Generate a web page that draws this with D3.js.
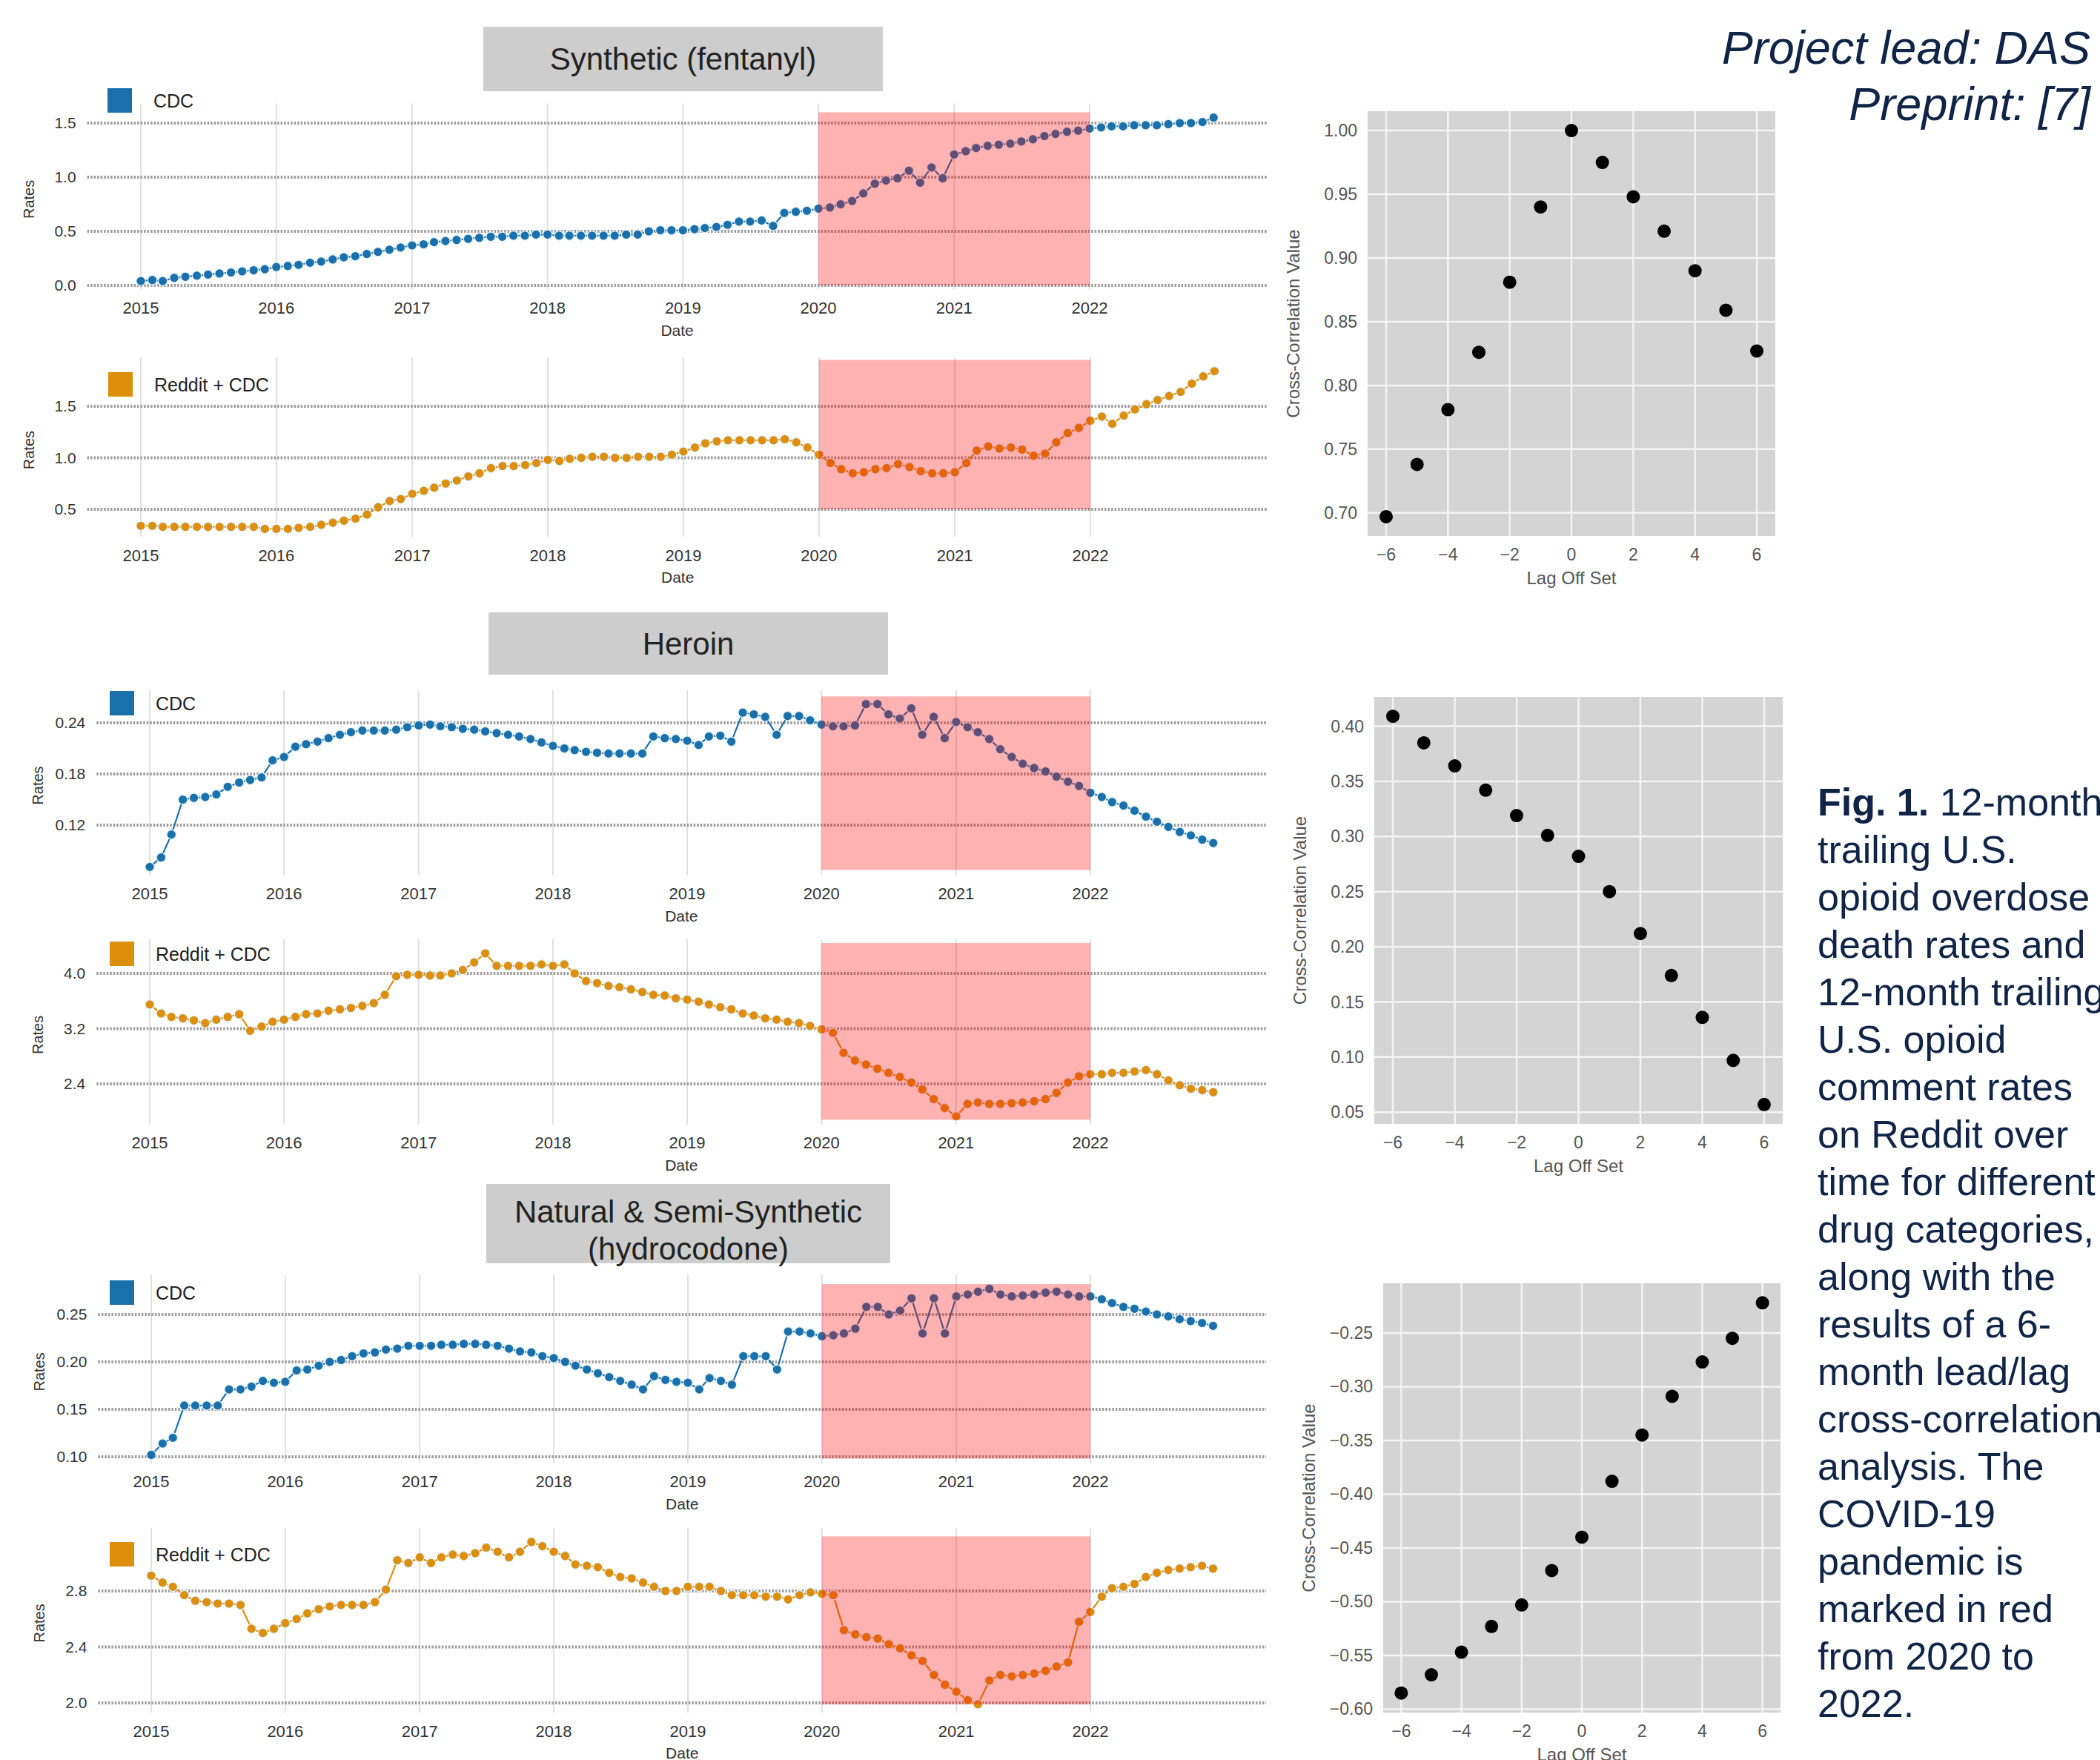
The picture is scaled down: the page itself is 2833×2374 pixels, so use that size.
<!DOCTYPE html>
<html>
<head>
<meta charset="utf-8">
<script src="https://cdn.jsdelivr.net/npm/d3@7"></script>
<style>
  body { margin: 0; background: #fff; }
  svg { display: block; font-family: "Liberation Sans", Arial, sans-serif; }
</style>
</head>
<body>
<svg id="fig" width="2833" height="2374"></svg>
<script>
// monthly rates, Jan 2015 .. Dec 2022
const fentanylCDC = [
  0.04,0.05,0.04,0.07,0.08,0.09,0.10,0.11,0.12,0.13,0.14,0.15,
  0.17,0.18,0.19,0.21,0.22,0.24,0.26,0.27,0.29,0.31,0.33,0.35,
  0.37,0.38,0.40,0.41,0.42,0.43,0.44,0.45,0.45,0.46,0.46,0.47,
  0.47,0.46,0.46,0.46,0.46,0.46,0.46,0.47,0.47,0.50,0.51,0.51,
  0.51,0.52,0.53,0.54,0.56,0.59,0.59,0.60,0.55,0.67,0.68,0.69,
  0.71,0.72,0.75,0.78,0.85,0.94,0.97,0.99,1.06,0.95,1.09,0.99,
  1.21,1.24,1.27,1.29,1.30,1.31,1.33,1.35,1.38,1.40,1.42,1.43,
  1.45,1.46,1.47,1.47,1.48,1.48,1.48,1.49,1.50,1.50,1.51,1.55
];
const fentanylReddit = [
  0.34,0.34,0.33,0.33,0.33,0.33,0.33,0.33,0.33,0.33,0.33,0.31,
  0.31,0.31,0.32,0.33,0.35,0.37,0.39,0.41,0.45,0.52,0.58,0.60,
  0.65,0.68,0.71,0.75,0.78,0.82,0.85,0.90,0.92,0.92,0.93,0.95,
  0.98,0.97,0.99,1.00,1.01,1.01,1.00,1.00,1.01,1.01,1.01,1.03,
  1.06,1.10,1.14,1.16,1.17,1.17,1.17,1.17,1.17,1.18,1.15,1.10,
  1.03,0.95,0.89,0.85,0.86,0.89,0.90,0.94,0.91,0.87,0.85,0.85,
  0.86,0.95,1.07,1.11,1.09,1.10,1.08,1.02,1.04,1.15,1.24,1.29,
  1.36,1.40,1.33,1.41,1.47,1.52,1.56,1.60,1.64,1.72,1.79,1.84
];
const heroinCDC = [
  0.071,0.082,0.109,0.150,0.152,0.153,0.156,0.165,0.170,0.173,0.176,0.196,
  0.200,0.212,0.215,0.218,0.222,0.226,0.229,0.231,0.231,0.231,0.232,0.235,
  0.237,0.238,0.236,0.235,0.233,0.232,0.230,0.228,0.226,0.224,0.221,0.217,
  0.213,0.210,0.208,0.206,0.205,0.204,0.204,0.204,0.204,0.224,0.222,0.221,
  0.219,0.214,0.224,0.225,0.218,0.252,0.250,0.247,0.226,0.248,0.248,0.243,
  0.238,0.236,0.236,0.237,0.262,0.262,0.250,0.245,0.257,0.226,0.247,0.222,
  0.241,0.235,0.229,0.221,0.209,0.200,0.192,0.187,0.183,0.177,0.171,0.166,
  0.158,0.153,0.147,0.143,0.137,0.130,0.124,0.118,0.112,0.108,0.103,0.099
];
const heroinReddit = [
  3.55,3.42,3.37,3.35,3.32,3.28,3.33,3.37,3.41,3.17,3.23,3.30,
  3.33,3.37,3.41,3.42,3.46,3.48,3.50,3.53,3.57,3.69,3.96,3.98,
  3.98,3.97,3.97,4.00,4.05,4.16,4.29,4.11,4.11,4.11,4.11,4.13,
  4.11,4.13,4.00,3.89,3.86,3.82,3.80,3.77,3.73,3.69,3.68,3.64,
  3.62,3.59,3.55,3.51,3.48,3.42,3.39,3.35,3.33,3.30,3.28,3.24,
  3.19,3.14,2.85,2.74,2.68,2.62,2.56,2.50,2.42,2.32,2.18,2.05,
  1.93,2.11,2.13,2.11,2.11,2.12,2.13,2.15,2.18,2.27,2.42,2.51,
  2.54,2.54,2.56,2.56,2.58,2.60,2.54,2.45,2.38,2.33,2.31,2.28
];
const hydroCDC = [
  0.102,0.114,0.120,0.154,0.154,0.154,0.154,0.171,0.171,0.174,0.180,0.178,
  0.179,0.191,0.192,0.196,0.200,0.202,0.206,0.209,0.210,0.213,0.214,0.217,
  0.217,0.217,0.218,0.218,0.219,0.219,0.218,0.217,0.214,0.211,0.210,0.206,
  0.204,0.200,0.196,0.192,0.188,0.184,0.180,0.176,0.171,0.185,0.181,0.179,
  0.178,0.171,0.183,0.180,0.176,0.206,0.206,0.206,0.192,0.232,0.232,0.230,
  0.227,0.228,0.230,0.235,0.258,0.258,0.250,0.254,0.267,0.230,0.267,0.230,
  0.269,0.271,0.274,0.277,0.271,0.269,0.270,0.271,0.273,0.274,0.271,0.269,
  0.269,0.266,0.262,0.258,0.256,0.253,0.250,0.248,0.245,0.243,0.241,0.238
];
const hydroReddit = [
  2.91,2.86,2.83,2.77,2.73,2.72,2.71,2.71,2.70,2.53,2.50,2.53,
  2.57,2.60,2.64,2.67,2.69,2.70,2.70,2.70,2.72,2.81,3.02,3.00,
  3.04,3.00,3.04,3.06,3.05,3.07,3.11,3.08,3.04,3.08,3.15,3.12,
  3.08,3.05,2.99,2.98,2.97,2.93,2.90,2.89,2.86,2.83,2.80,2.80,
  2.83,2.83,2.83,2.80,2.77,2.77,2.77,2.76,2.76,2.74,2.77,2.79,
  2.78,2.77,2.52,2.49,2.47,2.46,2.42,2.39,2.34,2.30,2.20,2.13,
  2.08,2.02,1.99,2.16,2.20,2.19,2.20,2.21,2.23,2.26,2.29,2.58,
  2.65,2.76,2.82,2.83,2.85,2.90,2.93,2.95,2.96,2.97,2.98,2.96
];

// lead/lag cross-correlation
const lagOffsets = [-6,-5,-4,-3,-2,-1,0,1,2,3,4,5,6];
const xcorrFentanyl = [0.697,0.738,0.781,0.826,0.881,0.940,1.000,0.975,0.948,0.921,0.890,0.859,0.827];
const xcorrHeroin = [0.409,0.385,0.364,0.342,0.319,0.301,0.282,0.250,0.212,0.174,0.136,0.097,0.057];
const xcorrHydro = [-0.585,-0.568,-0.547,-0.523,-0.503,-0.471,-0.440,-0.388,-0.345,-0.309,-0.277,-0.255,-0.222];

const lagTicks = [-6,-4,-2,0,2,4,6];
const yearLabels = ['2015','2016','2017','2018','2019','2020','2021','2022'];
const covidSpan = ['2020','2022'];
const titles = [['Synthetic (fentanyl)'], ['Heroin'], ['Natural & Semi-Synthetic', '(hydrocodone)']];
const captionLines = [
  '12-month', 'trailing U.S.', 'opioid overdose', 'death rates and', '12-month trailing',
  'U.S. opioid', 'comment rates', 'on Reddit over', 'time for different',
  'drug categories,', 'along with the', 'results of a 6-', 'month lead/lag',
  'cross-correlation', 'analysis. The', 'COVID-19', 'pandemic is',
  'marked in red', 'from 2020 to', '2022.'
];

const blue = '#1a70aa', orange = '#dc8e0c';
const dates = d3.timeMonth.range(new Date(2015, 0, 1), new Date(2023, 0, 1));
const parseYear = d3.timeParse('%Y');

const svg = d3.select('#fig');
svg.append('rect').attr('width', 2833).attr('height', 2374).attr('fill', '#fff');

const linePanels = [
  {values: fentanylCDC, color: blue, name: 'CDC', x15: 190, x22: 1470, ya: [0, 385], yb: [1.5, 166],
   ticks: [0, 0.5, 1.0, 1.5], fmt: '.1f', band: [0, 1.6], legend: [145, 119]},
  {values: fentanylReddit, color: orange, name: 'Reddit + CDC', x15: 190, x22: 1471, ya: [0.5, 687], yb: [1.5, 548],
   ticks: [0.5, 1.0, 1.5], fmt: '.1f', band: [0.5, 1.95], legend: [146, 502]},
  {values: heroinCDC, color: blue, name: 'CDC', x15: 202, x22: 1471, ya: [0.12, 1113], yb: [0.24, 975],
   ticks: [0.12, 0.18, 0.24], fmt: '.2f', band: [0.0675, 0.271], legend: [148, 932]},
  {values: heroinReddit, color: orange, name: 'Reddit + CDC', x15: 202, x22: 1471, ya: [2.4, 1462], yb: [4.0, 1313],
   ticks: [2.4, 3.2, 4.0], fmt: '.1f', band: [1.88, 4.44], legend: [148, 1270]},
  {values: hydroCDC, color: blue, name: 'CDC', x15: 204, x22: 1471, ya: [0.10, 1965], yb: [0.25, 1773],
   ticks: [0.10, 0.15, 0.20, 0.25], fmt: '.2f', band: [0.098, 0.282], legend: [148, 1727]},
  {values: hydroReddit, color: orange, name: 'Reddit + CDC', x15: 204, x22: 1471, ya: [2.0, 2297], yb: [2.8, 2146],
   ticks: [2.0, 2.4, 2.8], fmt: '.1f', band: [1.99, 3.19], legend: [148, 2080]}
];

function drawLinePanel(p) {
  const g = svg.append('g');
  const x = d3.scaleTime().domain([parseYear('2015'), parseYear('2022')]).range([p.x15, p.x22]);
  const y = d3.scaleLinear().domain([p.ya[0], p.yb[0]]).range([p.ya[1], p.yb[1]]);

  const span = x(dates[dates.length - 1]) - x(dates[0]);
  const left = x(dates[0]) - 0.05 * span, right = x(dates[dates.length - 1]) + 0.05 * span;
  const [lo, hi] = d3.extent(p.values);
  const pad = 0.05 * (hi - lo);
  const top = y(hi + pad), bottom = y(lo - pad);

  g.selectAll('line.vgrid').data(yearLabels).join('line')
    .attr('x1', d => x(parseYear(d))).attr('x2', d => x(parseYear(d)))
    .attr('y1', top - 8).attr('y2', bottom)
    .attr('stroke', '#e0e0e0').attr('stroke-width', 2);

  g.selectAll('line.hgrid').data(p.ticks).join('line')
    .attr('x1', left).attr('x2', right)
    .attr('y1', d => y(d)).attr('y2', d => y(d))
    .attr('stroke', '#9c9c9c').attr('stroke-width', 4)
    .attr('stroke-dasharray', '2.5 2');

  const pts = dates.map((d, i) => ({date: d, v: p.values[i]}));
  g.append('path').datum(pts)
    .attr('fill', 'none').attr('stroke', p.color).attr('stroke-width', 2.2)
    .attr('d', d3.line().x(d => x(d.date)).y(d => y(d.v)));
  g.selectAll('circle').data(pts).join('circle')
    .attr('cx', d => x(d.date)).attr('cy', d => y(d.v)).attr('r', 6.2)
    .attr('fill', p.color).attr('stroke', '#dff3ff').attr('stroke-width', 1.2);

  // covid period
  g.append('rect')
    .attr('x', x(parseYear(covidSpan[0])))
    .attr('width', x(parseYear(covidSpan[1])) - x(parseYear(covidSpan[0])))
    .attr('y', y(p.band[1])).attr('height', y(p.band[0]) - y(p.band[1]))
    .attr('fill', 'red').attr('opacity', 0.3);

  const fmt = d3.format(p.fmt);
  g.selectAll('text.ytick').data(p.ticks).join('text')
    .attr('x', left - 15).attr('y', d => y(d)).attr('dy', '0.35em')
    .attr('text-anchor', 'end').attr('font-size', 21).attr('fill', '#333')
    .text(d => fmt(d));
  g.selectAll('text.xtick').data(yearLabels).join('text')
    .attr('x', d => x(parseYear(d))).attr('y', bottom + 25).attr('dy', '0.35em')
    .attr('text-anchor', 'middle').attr('font-size', 22).attr('fill', '#333')
    .text(d => d);
  g.append('text').attr('x', (left + right) / 2).attr('y', bottom + 55).attr('dy', '0.35em')
    .attr('text-anchor', 'middle').attr('font-size', 21).attr('fill', '#333').text('Date');
  g.append('text')
    .attr('transform', `translate(${left - 72},${(top + bottom) / 2}) rotate(-90)`)
    .attr('text-anchor', 'middle').attr('font-size', 20).attr('fill', '#333').text('Rates');

  g.append('rect').attr('x', p.legend[0]).attr('y', p.legend[1])
    .attr('width', 33).attr('height', 33).attr('fill', p.color);
  g.append('text').attr('x', p.legend[0] + 62).attr('y', p.legend[1] + 17).attr('dy', '0.35em')
    .attr('font-size', 25).attr('fill', '#222').text(p.name);
}
linePanels.forEach(drawLinePanel);

// category title boxes
const titleBoxes = [
  {x: 652, y: 36, w: 539, h: 87},
  {x: 659, y: 826, w: 539, h: 84},
  {x: 656, y: 1597, w: 545, h: 107}
];
titleBoxes.forEach((b, i) => {
  svg.append('rect').attr('x', b.x).attr('y', b.y).attr('width', b.w).attr('height', b.h).attr('fill', '#cdcdcd');
  const lines = titles[i];
  const lh = 50;
  const cy = b.y + b.h / 2 + (lines.length > 1 ? 9 : 0);
  lines.forEach((t, j) => {
    svg.append('text').attr('x', b.x + b.w / 2)
      .attr('y', cy + (j - (lines.length - 1) / 2) * lh).attr('dy', '0.35em')
      .attr('text-anchor', 'middle').attr('font-size', 42).attr('fill', '#222').text(t);
  });
});

// cross-correlation scatter panels
const scatterPanels = [
  {values: xcorrFentanyl, box: {l: 1845, r: 2395, t: 150, b: 723}, ticks: [0.70, 0.75, 0.80, 0.85, 0.90, 0.95, 1.00]},
  {values: xcorrHeroin, box: {l: 1854, r: 2405, t: 940, b: 1516}, ticks: [0.05, 0.10, 0.15, 0.20, 0.25, 0.30, 0.35, 0.40]},
  {values: xcorrHydro, box: {l: 1866, r: 2402, t: 1731, b: 2310}, ticks: [-0.60, -0.55, -0.50, -0.45, -0.40, -0.35, -0.30, -0.25]}
];

function drawScatter(s) {
  const g = svg.append('g');
  const b = s.box;
  const [lo, hi] = d3.extent(s.values);
  const pad = 0.05 * (hi - lo);
  const x = d3.scaleLinear().domain([-6.6, 6.6]).range([b.l, b.r]);
  const y = d3.scaleLinear().domain([lo - pad, hi + pad]).range([b.b, b.t]);

  g.append('rect').attr('x', b.l).attr('y', b.t).attr('width', b.r - b.l).attr('height', b.b - b.t)
    .attr('fill', '#d4d4d4');
  g.selectAll('line.vg').data(lagTicks).join('line')
    .attr('x1', d => x(d)).attr('x2', d => x(d)).attr('y1', b.t).attr('y2', b.b)
    .attr('stroke', '#f4f4f4').attr('stroke-width', 2.5);
  g.selectAll('line.hg').data(s.ticks).join('line')
    .attr('x1', b.l).attr('x2', b.r).attr('y1', d => y(d)).attr('y2', d => y(d))
    .attr('stroke', '#f4f4f4').attr('stroke-width', 2.5);

  g.selectAll('circle').data(lagOffsets).join('circle')
    .attr('cx', d => x(d)).attr('cy', (d, i) => y(s.values[i])).attr('r', 9)
    .attr('fill', '#000');

  const yf = d3.format('.2f'), xf = d3.format('d');
  g.selectAll('text.yt').data(s.ticks).join('text')
    .attr('x', b.l - 14).attr('y', d => y(d)).attr('dy', '0.35em')
    .attr('text-anchor', 'end').attr('font-size', 23).attr('fill', '#555').text(d => yf(d));
  g.selectAll('text.xt').data(lagTicks).join('text')
    .attr('x', d => x(d)).attr('y', b.b + 25).attr('dy', '0.35em')
    .attr('text-anchor', 'middle').attr('font-size', 23).attr('fill', '#555').text(d => xf(d));
  g.append('text').attr('x', (b.l + b.r) / 2).attr('y', b.b + 57).attr('dy', '0.35em')
    .attr('text-anchor', 'middle').attr('font-size', 24).attr('fill', '#555').text('Lag Off Set');
  g.append('text')
    .attr('transform', `translate(${b.l - 92},${(b.t + b.b) / 2}) rotate(-90)`)
    .attr('text-anchor', 'middle').attr('font-size', 24).attr('fill', '#555').text('Cross-Correlation Value');
}
scatterPanels.forEach(drawScatter);

// header
const navy = '#0f2446';
svg.append('text').attr('x', 2820).attr('y', 86).attr('text-anchor', 'end')
  .attr('font-size', 63).attr('font-style', 'italic').attr('fill', navy).text('Project lead: DAS');
svg.append('text').attr('x', 2820).attr('y', 162).attr('text-anchor', 'end')
  .attr('font-size', 63).attr('font-style', 'italic').attr('fill', navy).text('Preprint: [7]');

// caption
const cap = svg.append('text').attr('font-size', 52).attr('fill', navy);
captionLines.forEach((t, i) => {
  const line = cap.append('tspan').attr('x', 2452).attr('y', 1100 + i * 64);
  if (i === 0) {
    line.append('tspan').attr('font-weight', 'bold').text('Fig. 1. ');
  }
  line.append('tspan').text(t);
});
</script>
</body>
</html>
